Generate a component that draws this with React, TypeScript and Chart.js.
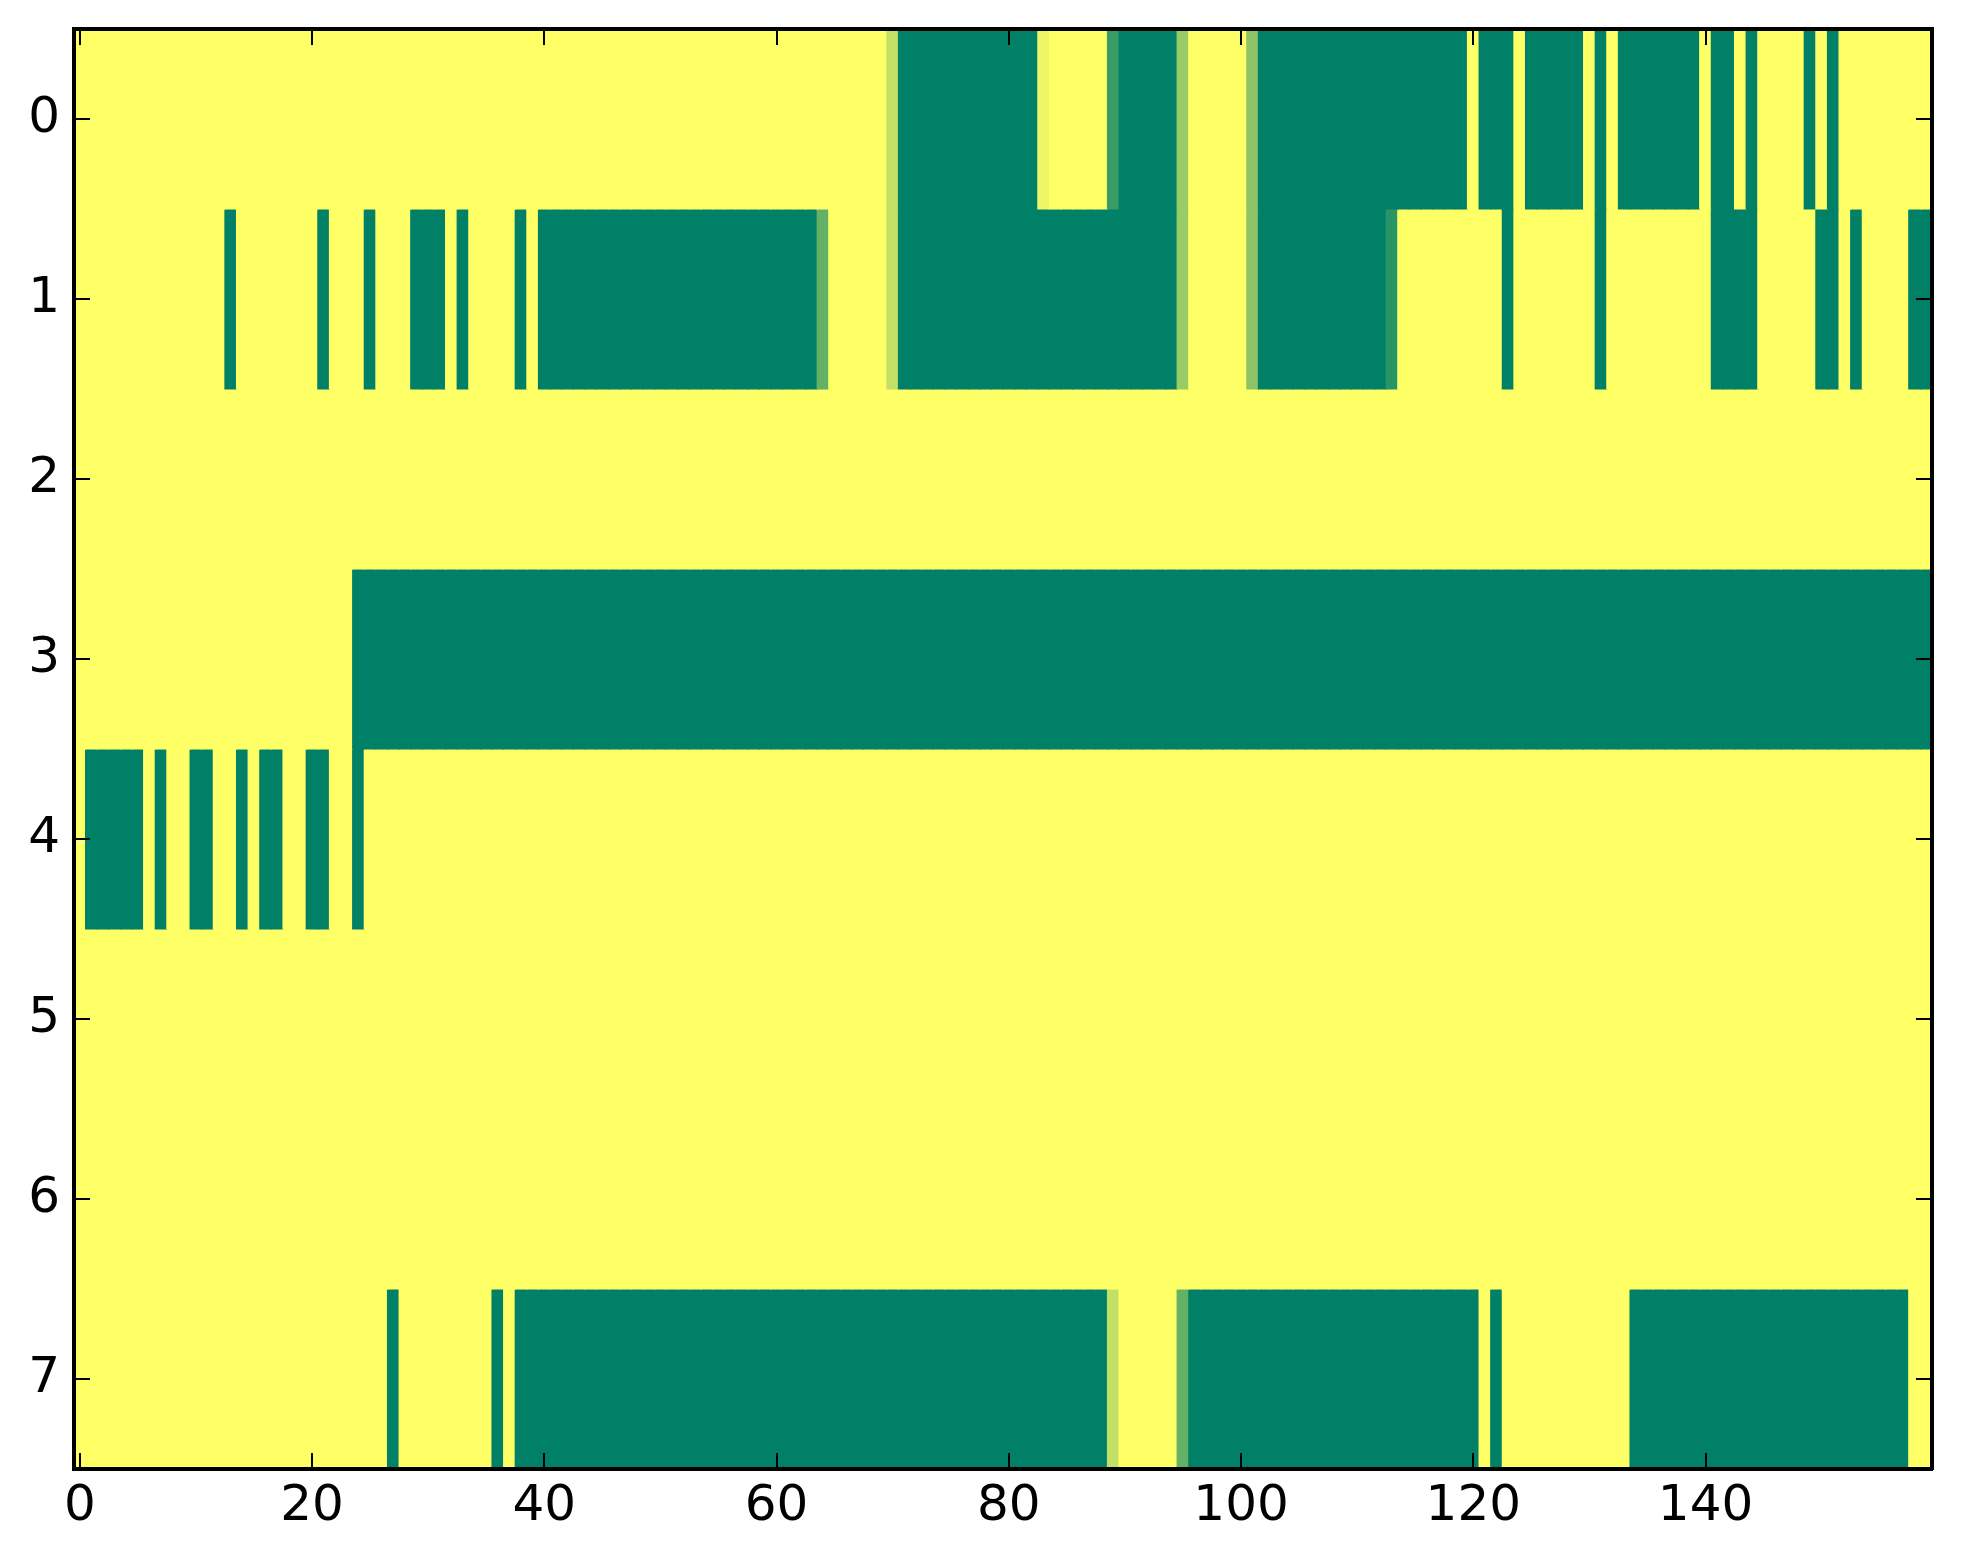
import React, { useEffect, useRef } from "react";
import { Chart, registerables } from "chart.js";

Chart.register(...registerables);

// Tick labels
const xTicks = [0, 20, 40, 60, 80, 100, 120, 140];
const yTicks = [0, 1, 2, 3, 4, 5, 6, 7];

// Cell values per row (columns 0..159); 1 = yellow, 0 = green (matplotlib "summer")
const row0 = [
  1,1,1,1,1,1,1,1,1,1,1,1,1,1,1,1,1,1,1,1,
  1,1,1,1,1,1,1,1,1,1,1,1,1,1,1,1,1,1,1,1,
  1,1,1,1,1,1,1,1,1,1,1,1,1,1,1,1,1,1,1,1,
  1,1,1,1,1,1,1,1,1,1,0.76,0,0,0,0,0,0,0,0,0,
  0,0,0,0.93,1,1,1,1,1,0.22,0,0,0,0,0,0.6,1,1,1,1,
  1,0.54,0,0,0,0,0,0,0,0,0,0,0,0,0,0,0,0,0,0,
  1,0,0,0,1,0,0,0,0,0,1,0,1,0,0,0,0,0,0,0,
  1,0,0,1,0,1,1,1,1,0,1,0,1,1,1,1,1,1,1,1,
];
const row1 = [
  1,1,1,1,1,1,1,1,1,1,1,1,1,0,1,1,1,1,1,1,
  1,0,1,1,1,0,1,1,1,0,0,0,1,0,1,1,1,1,0,1,
  0,0,0,0,0,0,0,0,0,0,0,0,0,0,0,0,0,0,0,0,
  0,0,0,0,0.39,1,1,1,1,1,0.76,0,0,0,0,0,0,0,0,0,
  0,0,0,0,0,0,0,0,0,0,0,0,0,0,0,0.6,1,1,1,1,
  1,0.54,0,0,0,0,0,0,0,0,0,0,0,0.16,1,1,1,1,1,1,
  1,1,1,0,1,1,1,1,1,1,1,0,1,1,1,1,1,1,1,1,
  1,0,0,0,0,1,1,1,1,1,0,0,1,0,1,1,1,1,0,0,
];
const row2 = [
  1,1,1,1,1,1,1,1,1,1,1,1,1,1,1,1,1,1,1,1,
  1,1,1,1,1,1,1,1,1,1,1,1,1,1,1,1,1,1,1,1,
  1,1,1,1,1,1,1,1,1,1,1,1,1,1,1,1,1,1,1,1,
  1,1,1,1,1,1,1,1,1,1,1,1,1,1,1,1,1,1,1,1,
  1,1,1,1,1,1,1,1,1,1,1,1,1,1,1,1,1,1,1,1,
  1,1,1,1,1,1,1,1,1,1,1,1,1,1,1,1,1,1,1,1,
  1,1,1,1,1,1,1,1,1,1,1,1,1,1,1,1,1,1,1,1,
  1,1,1,1,1,1,1,1,1,1,1,1,1,1,1,1,1,1,1,1,
];
const row3 = [
  1,1,1,1,1,1,1,1,1,1,1,1,1,1,1,1,1,1,1,1,
  1,1,1,1,0,0,0,0,0,0,0,0,0,0,0,0,0,0,0,0,
  0,0,0,0,0,0,0,0,0,0,0,0,0,0,0,0,0,0,0,0,
  0,0,0,0,0,0,0,0,0,0,0,0,0,0,0,0,0,0,0,0,
  0,0,0,0,0,0,0,0,0,0,0,0,0,0,0,0,0,0,0,0,
  0,0,0,0,0,0,0,0,0,0,0,0,0,0,0,0,0,0,0,0,
  0,0,0,0,0,0,0,0,0,0,0,0,0,0,0,0,0,0,0,0,
  0,0,0,0,0,0,0,0,0,0,0,0,0,0,0,0,0,0,0,0,
];
const row4 = [
  1,0,0,0,0,0,1,0,1,1,0,0,1,1,0,1,0,0,1,1,
  0,0,1,1,0,1,1,1,1,1,1,1,1,1,1,1,1,1,1,1,
  1,1,1,1,1,1,1,1,1,1,1,1,1,1,1,1,1,1,1,1,
  1,1,1,1,1,1,1,1,1,1,1,1,1,1,1,1,1,1,1,1,
  1,1,1,1,1,1,1,1,1,1,1,1,1,1,1,1,1,1,1,1,
  1,1,1,1,1,1,1,1,1,1,1,1,1,1,1,1,1,1,1,1,
  1,1,1,1,1,1,1,1,1,1,1,1,1,1,1,1,1,1,1,1,
  1,1,1,1,1,1,1,1,1,1,1,1,1,1,1,1,1,1,1,1,
];
const row5 = [
  1,1,1,1,1,1,1,1,1,1,1,1,1,1,1,1,1,1,1,1,
  1,1,1,1,1,1,1,1,1,1,1,1,1,1,1,1,1,1,1,1,
  1,1,1,1,1,1,1,1,1,1,1,1,1,1,1,1,1,1,1,1,
  1,1,1,1,1,1,1,1,1,1,1,1,1,1,1,1,1,1,1,1,
  1,1,1,1,1,1,1,1,1,1,1,1,1,1,1,1,1,1,1,1,
  1,1,1,1,1,1,1,1,1,1,1,1,1,1,1,1,1,1,1,1,
  1,1,1,1,1,1,1,1,1,1,1,1,1,1,1,1,1,1,1,1,
  1,1,1,1,1,1,1,1,1,1,1,1,1,1,1,1,1,1,1,1,
];
const row6 = [
  1,1,1,1,1,1,1,1,1,1,1,1,1,1,1,1,1,1,1,1,
  1,1,1,1,1,1,1,1,1,1,1,1,1,1,1,1,1,1,1,1,
  1,1,1,1,1,1,1,1,1,1,1,1,1,1,1,1,1,1,1,1,
  1,1,1,1,1,1,1,1,1,1,1,1,1,1,1,1,1,1,1,1,
  1,1,1,1,1,1,1,1,1,1,1,1,1,1,1,1,1,1,1,1,
  1,1,1,1,1,1,1,1,1,1,1,1,1,1,1,1,1,1,1,1,
  1,1,1,1,1,1,1,1,1,1,1,1,1,1,1,1,1,1,1,1,
  1,1,1,1,1,1,1,1,1,1,1,1,1,1,1,1,1,1,1,1,
];
const row7 = [
  1,1,1,1,1,1,1,1,1,1,1,1,1,1,1,1,1,1,1,1,
  1,1,1,1,1,1,1,0,1,1,1,1,1,1,1,1,0,1,0,0,
  0,0,0,0,0,0,0,0,0,0,0,0,0,0,0,0,0,0,0,0,
  0,0,0,0,0,0,0,0,0,0,0,0,0,0,0,0,0,0,0,0,
  0,0,0,0,0,0,0,0,0,0.76,1,1,1,1,1,0.39,0,0,0,0,
  0,0,0,0,0,0,0,0,0,0,0,0,0,0,0,0,0,0,0,0,
  0,1,0,1,1,1,1,1,1,1,1,1,1,1,0,0,0,0,0,0,
  0,0,0,0,0,0,0,0,0,0,0,0,0,0,0,0,0,0,1,1,
];

const rows = [row0, row1, row2, row3, row4, row5, row6, row7];

// matplotlib "summer" colormap
function summer(v: number): string {
  const r = Math.round(255 * v);
  const g = Math.round(255 * (0.5 + 0.5 * v));
  return `rgb(${r},${g},102)`;
}

export default function App() {
  const ref = useRef<HTMLCanvasElement>(null);

  useEffect(() => {
    if (!ref.current) return;
    const datasets = rows.map((vals, r) => ({
      label: `row ${r}`,
      data: vals.map((v, c) => ({ x: c, y: [r - 0.5, r + 0.5] })),
      backgroundColor: vals.map(summer),
      borderWidth: 0,
      inflateAmount: 0.6,
      barPercentage: 1,
      categoryPercentage: 1,
      grouped: false,
    }));

    const font = { family: "'DejaVu Sans', sans-serif", size: 50 };
    const grid = {
      offset: false,
      drawOnChartArea: false,
      drawTicks: true,
      tickLength: -16,
      color: "#000",
      lineWidth: 2,
      z: 1,
    };
    const border = { display: true, color: "#000", width: 4, z: 1 };
    const setX = (s: any) => {
      s.ticks = xTicks.map((v) => ({ value: v }));
    };
    const setY = (s: any) => {
      s.ticks = yTicks.map((v) => ({ value: v }));
    };
    const fitH = (h: number) => (s: any) => {
      s.height = h;
      s.paddingLeft = 0;
      s.paddingRight = 0;
      s.paddingTop = 0;
      s.paddingBottom = 0;
    };
    const fitW = (w: number) => (s: any) => {
      s.width = w;
      s.paddingLeft = 0;
      s.paddingRight = 0;
      s.paddingTop = 0;
      s.paddingBottom = 0;
    };

    const chart = new Chart(ref.current, {
      type: "bar",
      data: { datasets: datasets as any },
      options: {
        animation: false,
        responsive: false,
        devicePixelRatio: 1,
        events: [],
        layout: { padding: { left: 0, right: 31, top: 29, bottom: 0 } },
        plugins: { legend: { display: false }, tooltip: { enabled: false } },
        scales: {
          x: {
            type: "linear",
            position: "bottom",
            offset: false,
            min: -0.5,
            max: 159.5,
            afterBuildTicks: setX,
            afterFit: fitH(95),
            grid,
            border,
            ticks: { font, color: "#000", padding: 24, maxRotation: 0, autoSkip: false },
          },
          x2: {
            type: "linear",
            axis: "x",
            position: "top",
            offset: false,
            min: -0.5,
            max: 159.5,
            afterBuildTicks: setX,
            afterFit: fitH(0),
            grid,
            border,
            ticks: { display: false },
          },
          y: {
            type: "linear",
            position: "left",
            offset: false,
            reverse: true,
            min: -0.5,
            max: 7.5,
            afterBuildTicks: setY,
            afterFit: fitW(74),
            grid,
            border,
            ticks: { font, color: "#000", padding: 30, autoSkip: false },
          },
          y2: {
            type: "linear",
            axis: "y",
            position: "right",
            offset: false,
            reverse: true,
            min: -0.5,
            max: 7.5,
            afterBuildTicks: setY,
            afterFit: fitW(0),
            grid,
            border,
            ticks: { display: false },
          },
        } as any,
      },
    });
    return () => chart.destroy();
  }, []);

  return (
    <div
      style={{
        position: "fixed",
        left: 0,
        top: 0,
        width: 1963,
        height: 1564,
        background: "#fff",
      }}
    >
      <canvas ref={ref} width={1963} height={1564} style={{ display: "block" }} />
    </div>
  );
}
